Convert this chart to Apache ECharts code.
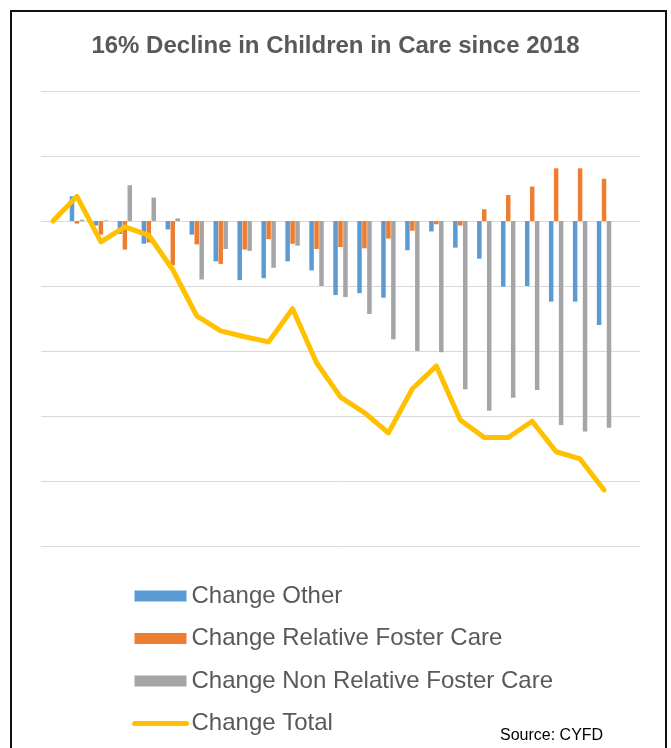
<!DOCTYPE html>
<html>
<head>
<meta charset="utf-8">
<script src="https://cdn.jsdelivr.net/npm/echarts@6/dist/echarts.min.js"></script>
<style>
  html, body { margin: 0; padding: 0; background: #fff; }
  #chart { width: 671px; height: 748px; }
</style>
</head>
<body>
<div id="chart"></div>
<script>
// Periods since the 2018 baseline (the last slot is left empty)
const periods = ['1','2','3','4','5','6','7','8','9','10','11','12','13','14','15','16','17','18','19','20','21','22','23','24','25'];

// Change in number of children, by placement type
const changeOther = [0, 38, -7, -20, -35, -13, -21, -62, -91, -88, -62, -76, -114, -111, -118, -45, -16, -41, -58, -101, -100, -124, -124, -160];
const changeRelative = [0, -4, -21, -44, -33, -68, -36, -66, -44, -28, -35, -43, -40, -42, -27, -15, -5, -7, 18, 40, 53, 81, 81, 65];
const changeNonRelative = [0, 2, 1, 55, 36, 4, -90, -43, -46, -72, -38, -100, -117, -143, -182, -200, -202, -259, -292, -272, -260, -314, -324, -318];
const changeTotal = [0, 38, -32, -9, -22, -75, -146, -169, -178, -186, -135, -218, -271, -295, -326, -258, -223, -306, -333, -333, -308, -355, -366, -414];

const FONT = '"Liberation Sans", Arial, sans-serif';
const chart = echarts.init(document.getElementById('chart'), null, { renderer: 'canvas' });

const barBase = {
  type: 'bar',
  barWidth: 4.5,
  barGap: '10%',
  silent: true
};

chart.setOption({
  animation: false,
  backgroundColor: '#fff',
  title: {
    text: '16% Decline in Children in Care since 2018',
    left: 'center',
    top: 34,
    padding: 0,
    textStyle: { fontFamily: FONT, fontSize: 24, fontWeight: 'bold', color: '#595959' }
  },
  grid: { left: 41, right: 31, top: 91, bottom: 202 },
  xAxis: {
    type: 'category',
    data: periods,
    boundaryGap: true,
    axisLine: { show: false },
    axisTick: { show: false },
    axisLabel: { show: false },
    splitLine: { show: false }
  },
  yAxis: {
    type: 'value',
    min: -500,
    max: 200,
    interval: 100,
    axisLine: { show: false },
    axisTick: { show: false },
    axisLabel: { show: false },
    splitLine: { lineStyle: { color: '#D9D9D9', width: 1 } }
  },
  legend: {
    orient: 'vertical',
    left: 132,
    top: 584,
    padding: 0,
    itemWidth: 52,
    itemHeight: 11,
    itemGap: 18.5,
    textStyle: { fontFamily: FONT, fontSize: 24, color: '#595959', lineHeight: 24, padding: [0, 0, 0, 0] },
    data: [
      { name: 'Change Other', icon: 'rect' },
      { name: 'Change Relative Foster Care', icon: 'rect' },
      { name: 'Change Non Relative Foster Care', icon: 'rect' },
      {
        name: 'Change Total',
        itemStyle: { color: 'rgba(0,0,0,0)', borderColor: 'rgba(0,0,0,0)', borderWidth: 0, opacity: 0 },
        lineStyle: { color: '#FFC000', width: 5, cap: 'round' }
      }
    ]
  },
  series: [
    Object.assign({}, barBase, { name: 'Change Other', data: changeOther, itemStyle: { color: '#5B9BD5' } }),
    Object.assign({}, barBase, { name: 'Change Relative Foster Care', data: changeRelative, itemStyle: { color: '#ED7D31' } }),
    Object.assign({}, barBase, { name: 'Change Non Relative Foster Care', data: changeNonRelative, itemStyle: { color: '#A5A5A5' } }),
    {
      name: 'Change Total',
      type: 'line',
      data: changeTotal,
      symbol: 'none',
      smooth: false,
      z: 5,
      itemStyle: { color: '#FFC000' },
      lineStyle: { color: '#FFC000', width: 5, cap: 'round', join: 'round' }
    }
  ],
  graphic: [
    {
      type: 'rect',
      shape: { x: 11, y: 11, width: 655, height: 760 },
      style: { fill: 'none', stroke: '#111', lineWidth: 2 },
      silent: true
    },
    {
      type: 'text',
      left: 500,
      top: 728,
      style: { text: 'Source: CYFD', fontFamily: FONT, fontSize: 16, fill: '#000' },
      silent: true
    }
  ]
});
</script>
</body>
</html>
